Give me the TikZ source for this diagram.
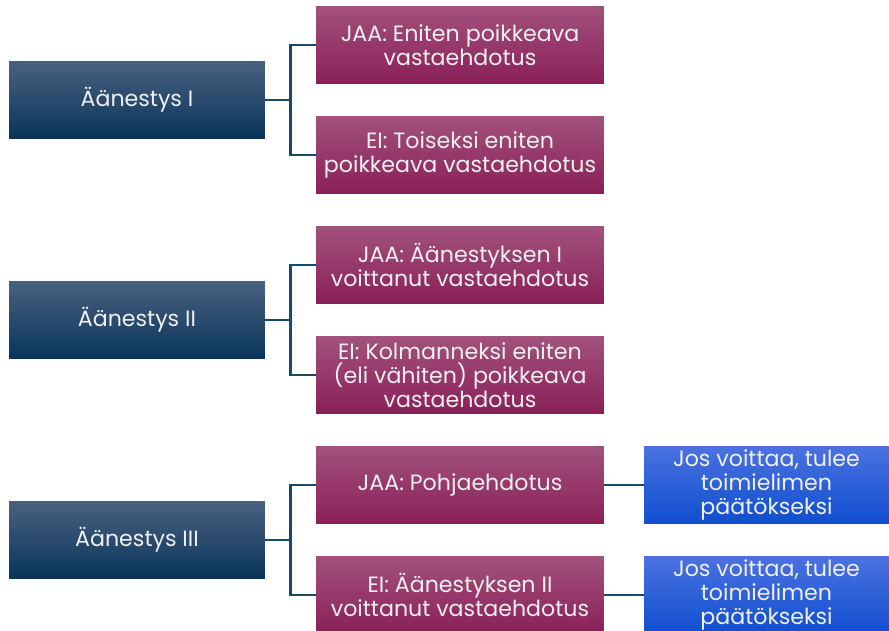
\documentclass[tikz,border=0pt]{standalone}
\usepackage{fontspec}
\setmainfont{Poppins}
\usetikzlibrary{positioning}

\definecolor{votetop}{HTML}{4A6180}
\definecolor{votebot}{HTML}{08345A}
\definecolor{optop}{HTML}{A2527C}
\definecolor{opbot}{HTML}{8A1F58}
\definecolor{restop}{HTML}{4C72E0}
\definecolor{resbot}{HTML}{0E4ECF}
\definecolor{linkcol}{HTML}{17496B}

\begin{document}
\begin{tikzpicture}[x=0.02cm,y=-0.02cm,
    font=\fontsize{12.6}{13.6}\selectfont,
    box/.style={text=white!94!black,align=center,inner sep=0pt,minimum height=1.56cm},
    vote/.style={box,top color=votetop,bottom color=votebot,minimum width=5.12cm},
    option/.style={box,top color=optop,bottom color=opbot,minimum width=5.76cm},
    result/.style={box,top color=restop,bottom color=resbot,minimum width=4.9cm},
    link/.style={linkcol,line width=1.7pt}]

    \useasboundingbox (0,0) rectangle (889,631);

    % Votes
    \node [vote] (v1) at (137,100) {Äänestys I};
    \node [vote] (v2) at (137,320) {Äänestys II};
    \node [vote] (v3) at (137,540) {Äänestys III};

    % Options of vote I
    \node [option] (o11) at (460,45) {JAA: Eniten poikkeava\\vastaehdotus};
    \node [option] (o12) at (460,155) {EI: Toiseksi eniten\\poikkeava vastaehdotus};

    % Options of vote II
    \node [option] (o21) at (460,265) {JAA: Äänestyksen I\\voittanut vastaehdotus};
    \node [option] (o22) at (460,375) {EI: Kolmanneksi eniten\\(eli vähiten) poikkeava\\vastaehdotus};

    % Options of vote III
    \node [option] (o31) at (460,485) {JAA: Pohjaehdotus};
    \node [option] (o32) at (460,595) {EI: Äänestyksen II\\voittanut vastaehdotus};

    % Results
    \node [result] (r1) at (766.5,485) {Jos voittaa, tulee\\toimielimen\\päätökseksi};
    \node [result] (r2) at (766.5,595) {Jos voittaa, tulee\\toimielimen\\päätökseksi};

    % Connectors
    \foreach \v in {1,2,3} {
        \draw [link] (v\v.east) -- ++(25,0) |- (o\v1.west);
        \draw [link] (v\v.east) -- ++(25,0) |- (o\v2.west);
    }
    \draw [link] (o31) -- (r1);
    \draw [link] (o32) -- (r2);

\end{tikzpicture}
\end{document}
